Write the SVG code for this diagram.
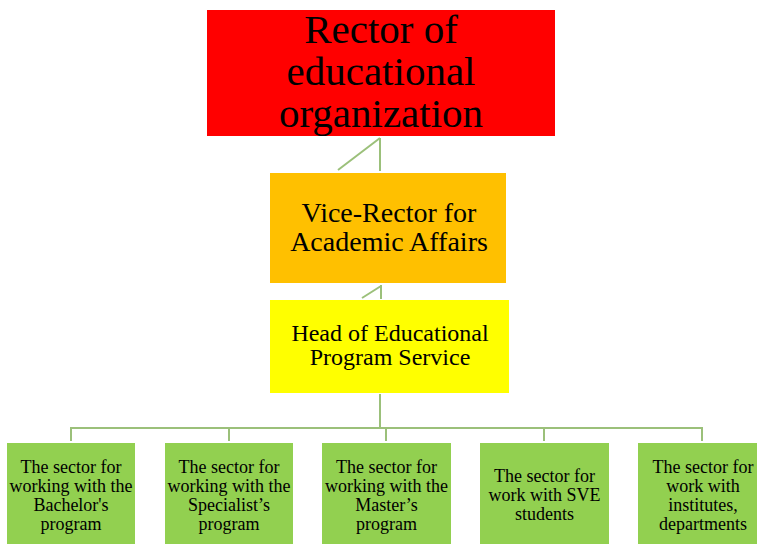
<svg xmlns="http://www.w3.org/2000/svg" width="757" height="544" viewBox="0 0 757 544">
<style>
text{font-family:"Liberation Serif","Times New Roman",serif;fill:#000;text-anchor:middle}
.c{fill:none;stroke:#9BC07A;stroke-width:2}
.s{fill:#92D050}
.g{font-size:18px}
</style>
<rect width="757" height="544" fill="#fff"/>
<g id="connectors">
<path class="c" d="M380,138V171M380,138L338,170"/>
<path class="c" d="M381,285V299M381,286L362,298"/>
<path class="c" d="M380,394V428M71,441V428H702V441M229,428V441M386,428V441M544,428V441"/>
</g>
<g id="rector">
<rect x="207" y="10" width="348" height="126" fill="#FF0000"/>
<text font-size="41"><tspan x="381" y="43">Rector of</tspan><tspan x="381" y="85">educational</tspan><tspan x="381" y="127">organization</tspan></text>
</g>
<g id="vicerector">
<rect x="270" y="173" width="236" height="110" fill="#FFC000"/>
<text font-size="28"><tspan x="389" y="222">Vice-Rector for</tspan><tspan x="389" y="251">Academic Affairs</tspan></text>
</g>
<g id="head">
<rect x="270" y="300" width="239" height="93" fill="#FFFF00"/>
<text font-size="24"><tspan x="390" y="341">Head of Educational</tspan><tspan x="390" y="365">Program Service</tspan></text>
</g>
<g id="bachelor">
<rect class="s" x="7" y="443" width="128" height="101"/>
<text class="g"><tspan x="71" y="473">The sector for</tspan><tspan x="71" y="492">working with the</tspan><tspan x="71" y="511">Bachelor's</tspan><tspan x="71" y="530">program</tspan></text>
</g>
<g id="specialist">
<rect class="s" x="165" y="443" width="128" height="101"/>
<text class="g"><tspan x="229" y="473">The sector for</tspan><tspan x="229" y="492">working with the</tspan><tspan x="229" y="511">Specialist’s</tspan><tspan x="229" y="530">program</tspan></text>
</g>
<g id="master">
<rect class="s" x="322" y="443" width="129" height="101"/>
<text class="g"><tspan x="386.5" y="473">The sector for</tspan><tspan x="386.5" y="492">working with the</tspan><tspan x="386.5" y="511">Master’s</tspan><tspan x="386.5" y="530">program</tspan></text>
</g>
<g id="sve">
<rect class="s" x="480" y="443" width="129" height="101"/>
<text class="g"><tspan x="544.5" y="482">The sector for</tspan><tspan x="544.5" y="501">work with SVE</tspan><tspan x="544.5" y="520">students</tspan></text>
</g>
<g id="institutes">
<rect class="s" x="638" y="443" width="119" height="101"/>
<text class="g"><tspan x="703" y="473">The sector for</tspan><tspan x="703" y="492">work with</tspan><tspan x="703" y="511">institutes,</tspan><tspan x="703" y="530">departments</tspan></text>
</g>
</svg>
